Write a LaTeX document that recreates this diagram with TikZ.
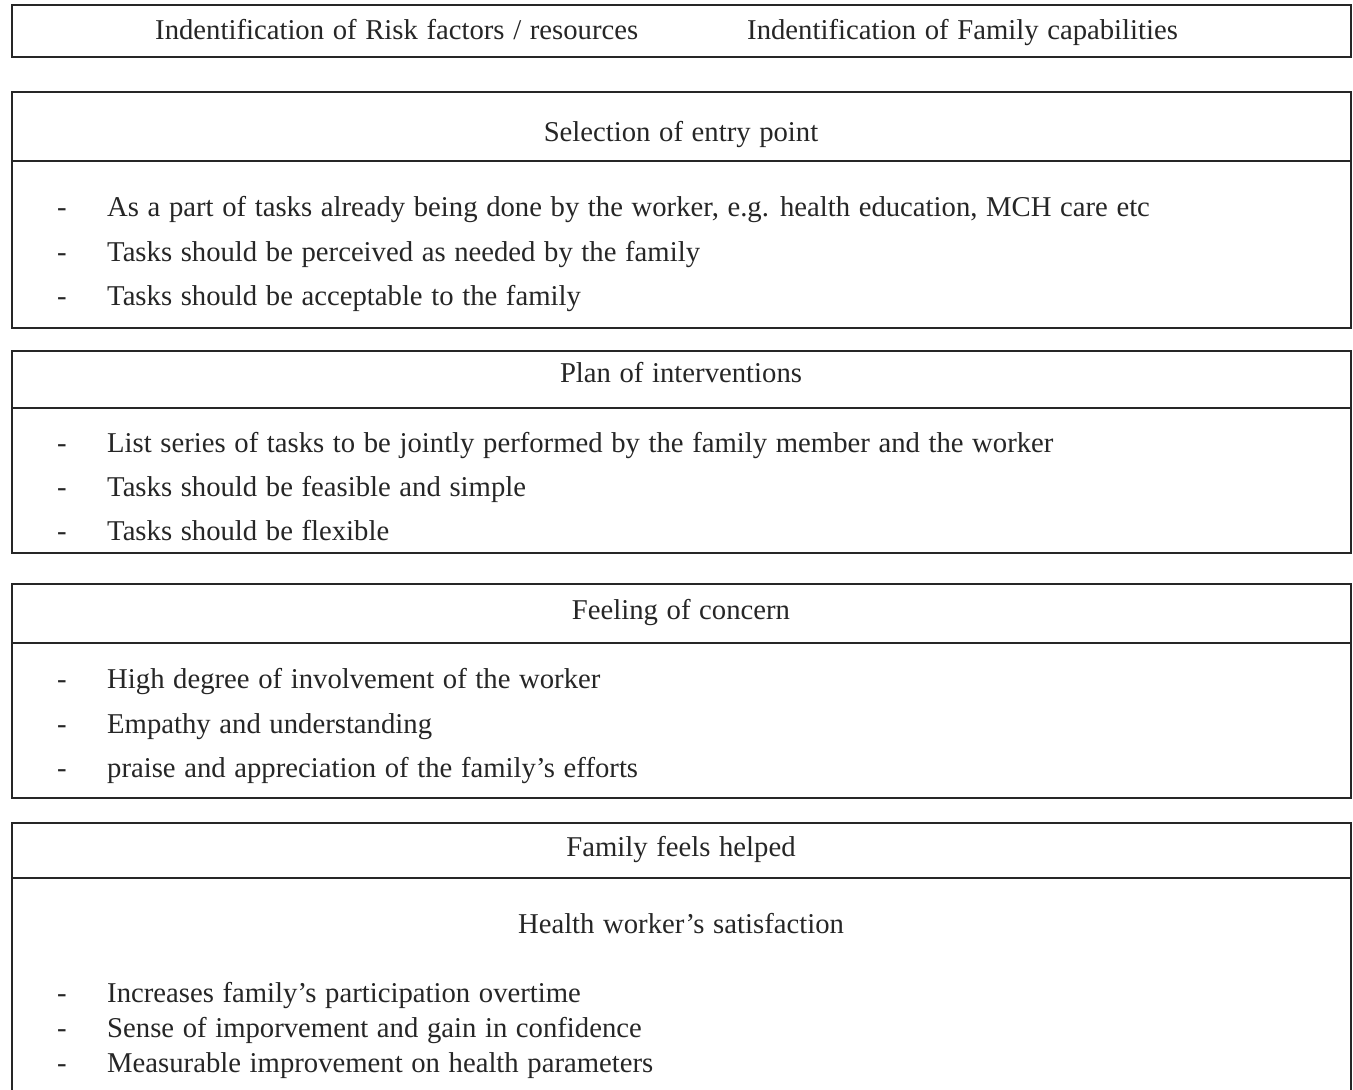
\documentclass[tikz,border=0pt]{standalone}
\usepackage{fontspec}
\setmainfont{Liberation Serif}[WordSpace=1.2]
\begin{document}
\begin{tikzpicture}[x=1pt,y=-1pt,
  boxline/.style={draw=black!85, line width=2pt},
  txt/.style={inner sep=0pt, font=\fontsize{28.7}{34}\selectfont, text=black!85},
  hdr/.style={txt, anchor=base},
  item/.style={txt, anchor=base west},
  dashmark/.style={txt, anchor=base}]
\useasboundingbox (0,0) rectangle (1353,1090);
\fill[white] (0,0) rectangle (1353,1090);

% Box 1
\draw[boxline] (11.5,4.5) rectangle (1350.5,56.5);
\node[item] (risk) at (155,39) {Indentification of Risk factors / resources};
\node[item] (cap) at (747,39) {Indentification of Family capabilities};

% Box 2
\draw[boxline] (11.5,91.5) rectangle (1350.5,328);
\draw[boxline] (11.5,161) -- (1350.5,161);
\node[hdr] (entry) at (681,141) {Selection of entry point};
\node[dashmark] (d21) at (62,216) {-};
\node[item] (e1) at (107,216) {As a part of tasks already being done by the worker, e.g. health education, MCH care etc};
\node[dashmark] (d22) at (62,261) {-};
\node[item] (e2) at (107,261) {Tasks should be perceived as needed by the family};
\node[dashmark] (d23) at (62,305) {-};
\node[item] (e3) at (107,305) {Tasks should be acceptable to the family};

% Box 3
\draw[boxline] (11.5,351) rectangle (1350.5,553);
\draw[boxline] (11.5,407.5) -- (1350.5,407.5);
\node[hdr] (plan) at (681,382) {Plan of interventions};
\node[dashmark] (d31) at (62,452) {-};
\node[item] (p1) at (107,452) {List series of tasks to be jointly performed by the family member and the worker};
\node[dashmark] (d32) at (62,496) {-};
\node[item] (p2) at (107,496) {Tasks should be feasible and simple};
\node[dashmark] (d33) at (62,540) {-};
\node[item] (p3) at (107,540) {Tasks should be flexible};

% Box 4
\draw[boxline] (11.5,584) rectangle (1350.5,798);
\draw[boxline] (11.5,643) -- (1350.5,643);
\node[hdr] (concern) at (681,619) {Feeling of concern};
\node[dashmark] (d41) at (62,688) {-};
\node[item] (c1) at (107,688) {High degree of involvement of the worker};
\node[dashmark] (d42) at (62,733) {-};
\node[item] (c2) at (107,733) {Empathy and understanding};
\node[dashmark] (d43) at (62,777) {-};
\node[item] (c3) at (107,777) {praise and appreciation of the family’s efforts};

% Box 5 (open at the bottom)
\draw[boxline] (11.5,1092) -- (11.5,823) -- (1350.5,823) -- (1350.5,1092);
\draw[boxline] (11.5,878) -- (1350.5,878);
\node[hdr] (helped) at (681,856) {Family feels helped};
\node[hdr] (satis) at (681,933) {Health worker’s satisfaction};
\node[dashmark] (d51) at (62,1002) {-};
\node[item] (s1) at (107,1002) {Increases family’s participation overtime};
\node[dashmark] (d52) at (62,1037) {-};
\node[item] (s2) at (107,1037) {Sense of imporvement and gain in confidence};
\node[dashmark] (d53) at (62,1072) {-};
\node[item] (s3) at (107,1072) {Measurable improvement on health parameters};
\end{tikzpicture}
\end{document}
